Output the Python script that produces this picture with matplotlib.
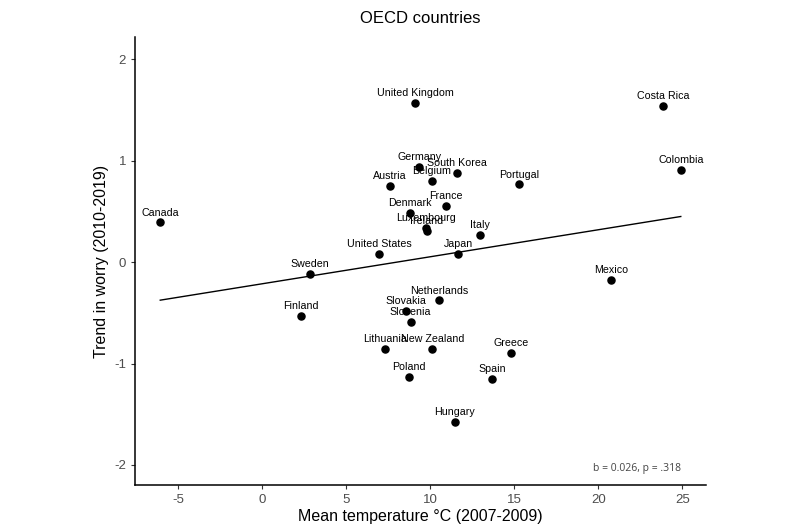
import numpy as np
import matplotlib
matplotlib.use("Agg")
from matplotlib import pyplot as plt

plt.rcParams['font.family'] = ['Liberation Sans', 'DejaVu Sans']
plt.rcParams['axes.unicode_minus'] = False

countries = ['Canada', 'United Kingdom', 'Costa Rica', 'Colombia', 'Germany', 'South Korea',
             'Belgium', 'Austria', 'Portugal', 'France', 'Denmark', 'Luxembourg', 'Ireland',
             'Italy', 'United States', 'Japan', 'Sweden', 'Mexico', 'Finland', 'Netherlands',
             'Slovakia', 'Slovenia', 'Lithuania', 'New Zealand', 'Greece', 'Poland', 'Spain',
             'Hungary']
temperature = [-6.07, 9.1, 23.87, 24.9, 9.35, 11.59,
               10.1, 7.58, 15.3, 10.91, 8.77, 9.74, 9.8,
               12.98, 6.94, 11.67, 2.86, 20.77, 2.32, 10.5,
               8.57, 8.83, 7.32, 10.12, 14.78, 8.73, 13.69,
               11.45]
worry_trend = [0.39, 1.57, 1.54, 0.91, 0.94, 0.88,
               0.80, 0.746, 0.765, 0.555, 0.483, 0.34, 0.31,
               0.263, 0.079, 0.082, -0.118, -0.177, -0.53, -0.378,
               -0.48, -0.59, -0.86, -0.86, -0.90, -1.13, -1.156,
               -1.576]

x = np.array(temperature)
y = np.array(worry_trend)

fig = plt.figure(figsize=(8, 5.3), dpi=100)
ax = fig.add_axes([0.169, 0.085, 0.7135, 0.845])

# linear fit, like geom_smooth(method = lm, se = FALSE)
slope, intercept = np.polyfit(x, y, 1)
xs = np.array([x.min(), x.max()])
ax.plot(xs, intercept + slope * xs, color='black', linewidth=1)

ax.scatter(x, y, s=26, color='black', zorder=3)
for name, xi, yi in zip(countries, temperature, worry_trend):
    ax.annotate(name, (xi, yi), xytext=(0, 3.5), textcoords='offset points',
                ha='center', va='bottom', fontsize=7.7, color='black')

ax.text(24.9, -2.03, 'b = 0.026, p = .318', ha='right', va='center',
        fontsize=7.5, color='#444444', family=['Open Sans', 'DejaVu Sans'])

ax.set_xlim(-7.56, 26.4)
ax.set_ylim(-2.197, 2.217)
ax.set_xticks([-5, 0, 5, 10, 15, 20, 25])
ax.set_yticks([-2, -1, 0, 1, 2])
for s in ['top', 'right']:
    ax.spines[s].set_visible(False)
for s in ['left', 'bottom']:
    ax.spines[s].set_linewidth(1.1)
ax.tick_params(direction='out', length=3, color='#333333', labelcolor='#4d4d4d', labelsize=9.5)

ax.set_xlabel('Mean temperature °C (2007-2009)', fontsize=11.5, labelpad=2)
ax.set_ylabel('Trend in worry (2010-2019)', fontsize=11.5, labelpad=4)
ax.set_title('OECD countries', fontsize=12, pad=10)

fig.savefig('out.png', dpi=100)
